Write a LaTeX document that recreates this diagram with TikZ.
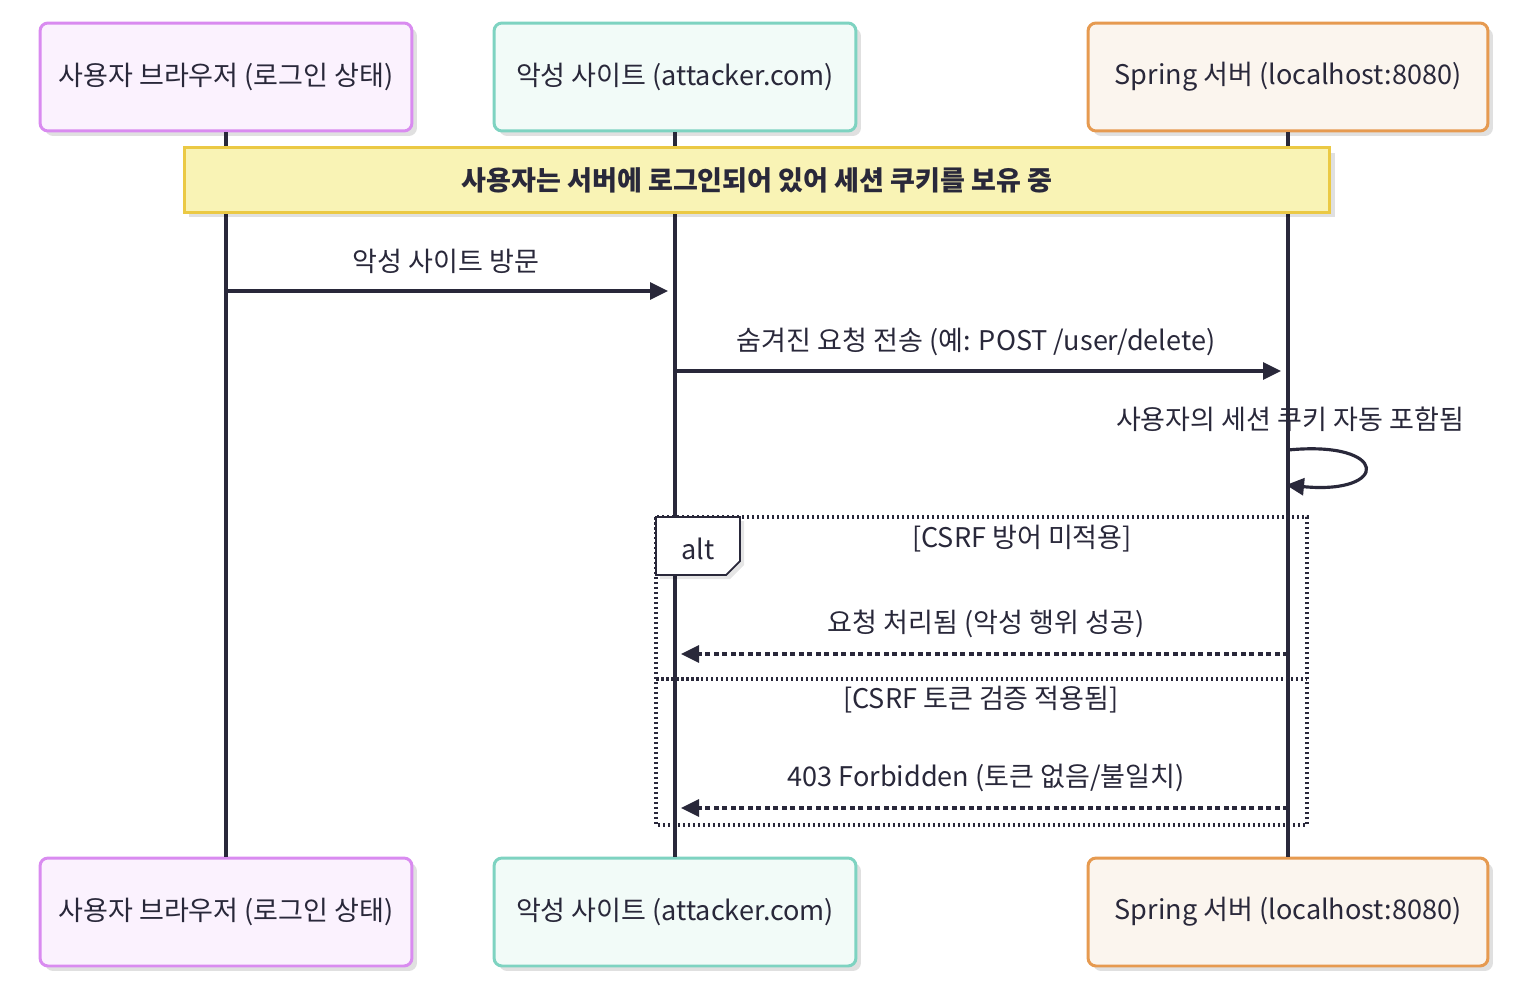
\documentclass[tikz,border=0pt]{standalone}
\usepackage{fontspec}
\setmainfont{Noto Sans CJK KR}
\usetikzlibrary{arrows.meta,shadows}
\definecolor{ink}{HTML}{29283A}
\definecolor{userfill}{HTML}{FBF2FE}
\definecolor{userline}{HTML}{D98BF0}
\definecolor{sitefill}{HTML}{F2FBF8}
\definecolor{siteline}{HTML}{7ED3C1}
\definecolor{srvfill}{HTML}{FBF5EE}
\definecolor{srvline}{HTML}{E69A50}
\definecolor{notefill}{HTML}{F9F3B5}
\definecolor{noteline}{HTML}{EBC944}
\tikzset{
  lbl/.style={text=ink, font=\fontsize{15.4}{18}\selectfont, inner sep=0pt},
  actorbox/.style={lbl, draw, line width=1.7pt, rounded corners=0.16cm,
    minimum height=2.16cm,
    drop shadow={shadow xshift=0.1cm, shadow yshift=-0.1cm, opacity=0.12, fill=black}},
  userbox/.style={actorbox, fill=userfill, draw=userline, minimum width=7.44cm},
  sitebox/.style={actorbox, fill=sitefill, draw=siteline, minimum width=7.24cm},
  srvbox/.style={actorbox, fill=srvfill, draw=srvline, minimum width=8cm},
  life/.style={draw=ink, line width=2pt},
  msg/.style={draw=ink, line width=1.8pt, -{Triangle[length=0.36cm, width=0.34cm]}},
  reply/.style={msg, dash pattern=on 0.1cm off 0.07cm},
  frame/.style={draw=ink, line width=2pt, dash pattern=on 0.05cm off 0.05cm},
}
\begin{document}
\begin{tikzpicture}[x=0.02cm, y=-0.02cm]
  \useasboundingbox (0,0) rectangle (1532,993);
  % participants
  \node[userbox] (user) at (226,77) {사용자 브라우저 (로그인 상태)};
  \node[sitebox] (site) at (675,77) {악성 사이트 (attacker.com)};
  \node[srvbox] (srv) at (1288,77) {Spring 서버 (localhost:8080)};
  \node[userbox] (userB) at (226,912) {사용자 브라우저 (로그인 상태)};
  \node[sitebox] (siteB) at (675,912) {악성 사이트 (attacker.com)};
  \node[srvbox] (srvB) at (1288,912) {Spring 서버 (localhost:8080)};
  % lifelines
  \draw[life] (user.south) -- (userB.north);
  \draw[life] (site.south) -- (siteB.north);
  \draw[life] (srv.south) -- (srvB.north);
  % note
  \node[lbl, draw=noteline, fill=notefill, line width=1.6pt,
    minimum width=22.92cm, minimum height=1.3cm, font=\fontsize{15.4}{18}\selectfont\bfseries,
    drop shadow={shadow xshift=0.1cm, shadow yshift=-0.1cm, opacity=0.12, fill=black}]
    (note) at (757,180) {사용자는 서버에 로그인되어 있어 세션 쿠키를 보유 중};
  % visit
  \coordinate (v1) at (226,291);
  \coordinate (v2) at (668,291);
  \node[lbl] (visit) at (446,261) {악성 사이트 방문};
  \draw[msg] (v1) -- (v2);
  % hidden request
  \coordinate (h1) at (675,371);
  \coordinate (h2) at (1281,371);
  \node[lbl] (hidden) at (976,342) {숨겨진 요청 전송 (예: POST /user/delete)};
  \draw[msg] (h1) -- (h2);
  % cookie self call
  \coordinate (c1) at (1288,450);
  \coordinate (c2) at (1286,485);
  \node[lbl] (cookie) at (1290,419) {사용자의 세션 쿠키 자동 포함됨};
  \draw[msg] (c1) .. controls (1390,440) and (1390,495) .. (c2);
  % alt frame
  \draw[frame] (656,517) rectangle (1307,825);
  \draw[frame] (656,679) -- (1307,679);
  \draw[draw=ink, line width=1pt, fill=white,
    drop shadow={shadow xshift=0.08cm, shadow yshift=-0.08cm, opacity=0.1, fill=black}]
    (656,517) -- (740,517) -- (740,561) -- (726,575) -- (656,575) -- cycle;
  \node[lbl] (alt) at (698,549) {alt};
  \node[lbl] (nocsrf) at (1022,539) {[CSRF 방어 미적용]};
  \node[lbl] (withcsrf) at (981,700) {[CSRF 토큰 검증 적용됨]};
  % replies
  \coordinate (r1) at (1288,654);
  \coordinate (r2) at (681,654);
  \node[lbl] (done) at (986,624) {요청 처리됨 (악성 행위 성공)};
  \draw[reply] (r1) -- (r2);
  \coordinate (f1) at (1288,808);
  \coordinate (f2) at (681,808);
  \node[lbl] (forbid) at (986,778) {403 Forbidden (토큰 없음/불일치)};
  \draw[reply] (f1) -- (f2);
\end{tikzpicture}
\end{document}
